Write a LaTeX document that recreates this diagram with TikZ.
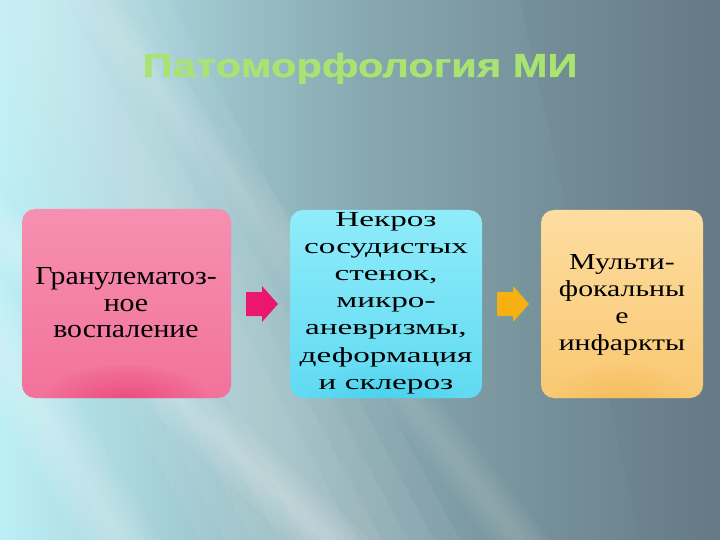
\documentclass[tikz,border=0pt]{standalone}
\usepackage{fontspec}
\newfontfamily\fontA{Liberation Serif}[FakeStretch=1.15]
\newfontfamily\fontB{Liberation Serif}[FakeStretch=1.55]
\newfontfamily\fontC{Liberation Serif}[FakeStretch=1.3]
\newfontfamily\titlefont{Liberation Sans}[FakeStretch=1.25, BoldFeatures={FakeBold=1.2}]
\definecolor{bgL}{HTML}{BDEFF6}
\definecolor{bgM}{HTML}{88A9B1}
\definecolor{bgR}{HTML}{657A85}
\definecolor{ttlgreen}{HTML}{A9E472}
\definecolor{pinkTop}{HTML}{F690B0}
\definecolor{pinkBot}{HTML}{F2729B}
\definecolor{pinkGlow}{HTML}{E8346F}
\definecolor{cyanTop}{HTML}{90ECFA}
\definecolor{cyanBot}{HTML}{60DAF2}
\definecolor{cyanGlow}{HTML}{34CCEA}
\definecolor{orTop}{HTML}{FDDDA0}
\definecolor{orBot}{HTML}{F9C872}
\definecolor{orGlow}{HTML}{F5B24A}
\definecolor{arrPink}{HTML}{EA1670}
\definecolor{arrOr}{HTML}{F6B012}
\tikzset{
  boxtext/.style={align=center, text=black, inner sep=0pt, anchor=center},
  flowarrow/.style={draw=none}
}
\newcommand{\softband}[4]{% x at top, x at bottom, half width, opacity
  \foreach \w in {0.2,0.4,0.6,0.8,1.0}{
    \fill[white, opacity=#4] ({#1-\w*#3},0) -- ({#1+\w*#3},0) -- ({#2+\w*#3},540) -- ({#2-\w*#3},540) -- cycle;
  }}
\begin{document}
\begin{tikzpicture}[x=1bp,y=-1bp]
\useasboundingbox (0,0) rectangle (720,540);
% background
\shade[left color=bgL, right color=bgR, middle color=bgM, shading angle=90] (0,0) rectangle (720,540);
\softband{40}{330}{130}{0.05}
\softband{-210}{120}{40}{0.06}
\softband{-250}{330}{40}{0.06}
\softband{90}{520}{30}{0.03}
\fill[bgR, opacity=0.12] (520,0) -- (720,0) -- (720,540) -- (640,540) -- cycle;
% title
\node[font=\titlefont\bfseries\fontsize{33.5}{36}\selectfont, text=ttlgreen, anchor=base] (title) at (360,77) {Патоморфология МИ};
% box 1
\shade[top color=pinkTop, bottom color=pinkBot, rounded corners=13bp] (22,209) rectangle (231,398);
\begin{scope}
\clip[rounded corners=13bp] (22,209) rectangle (231,398);
\shade[inner color=pinkGlow, outer color=pinkBot, opacity=0.7] (126,405) ellipse (85 and 40);
\end{scope}
\node[boxtext, font=\fontA\fontsize{26}{26.5}\selectfont] (b1) at (126,303) {Гранулематоз-\\ное\\воспаление};
% box 2
\shade[top color=cyanTop, bottom color=cyanBot, rounded corners=13bp] (290,210) rectangle (482,398);
\begin{scope}
\clip[rounded corners=13bp] (290,210) rectangle (482,398);
\shade[inner color=cyanGlow, outer color=cyanBot, opacity=0.6] (386,405) ellipse (80 and 40);
\end{scope}
\node[boxtext, font=\fontB\fontsize{21.5}{27.3}\selectfont] (b2) at (386,303) {Некроз\\сосудистых\\стенок,\\микро-\\аневризмы,\\деформация\\и склероз};
% box 3
\shade[top color=orTop, bottom color=orBot, rounded corners=13bp] (541,210) rectangle (703,398);
\begin{scope}
\clip[rounded corners=13bp] (541,210) rectangle (703,398);
\shade[inner color=orGlow, outer color=orBot, opacity=0.6] (622,405) ellipse (70 and 40);
\end{scope}
\node[boxtext, font=\fontC\fontsize{23}{27.2}\selectfont] (b3) at (622,305) {Мульти-\\фокальны\\е\\инфаркты};
% arrows
\coordinate (a1) at (246,304);
\coordinate (a2) at (497,304);
\fill[flowarrow, arrPink, shift={(a1)}] (0,-12) -- (16,-12) -- (16,-18) -- (32,0) -- (16,18) -- (16,12) -- (0,12) -- cycle;
\fill[flowarrow, arrOr, shift={(a2)}] (0,-12) -- (16,-12) -- (16,-18) -- (32,0) -- (16,18) -- (16,12) -- (0,12) -- cycle;
\end{tikzpicture}
\end{document}
